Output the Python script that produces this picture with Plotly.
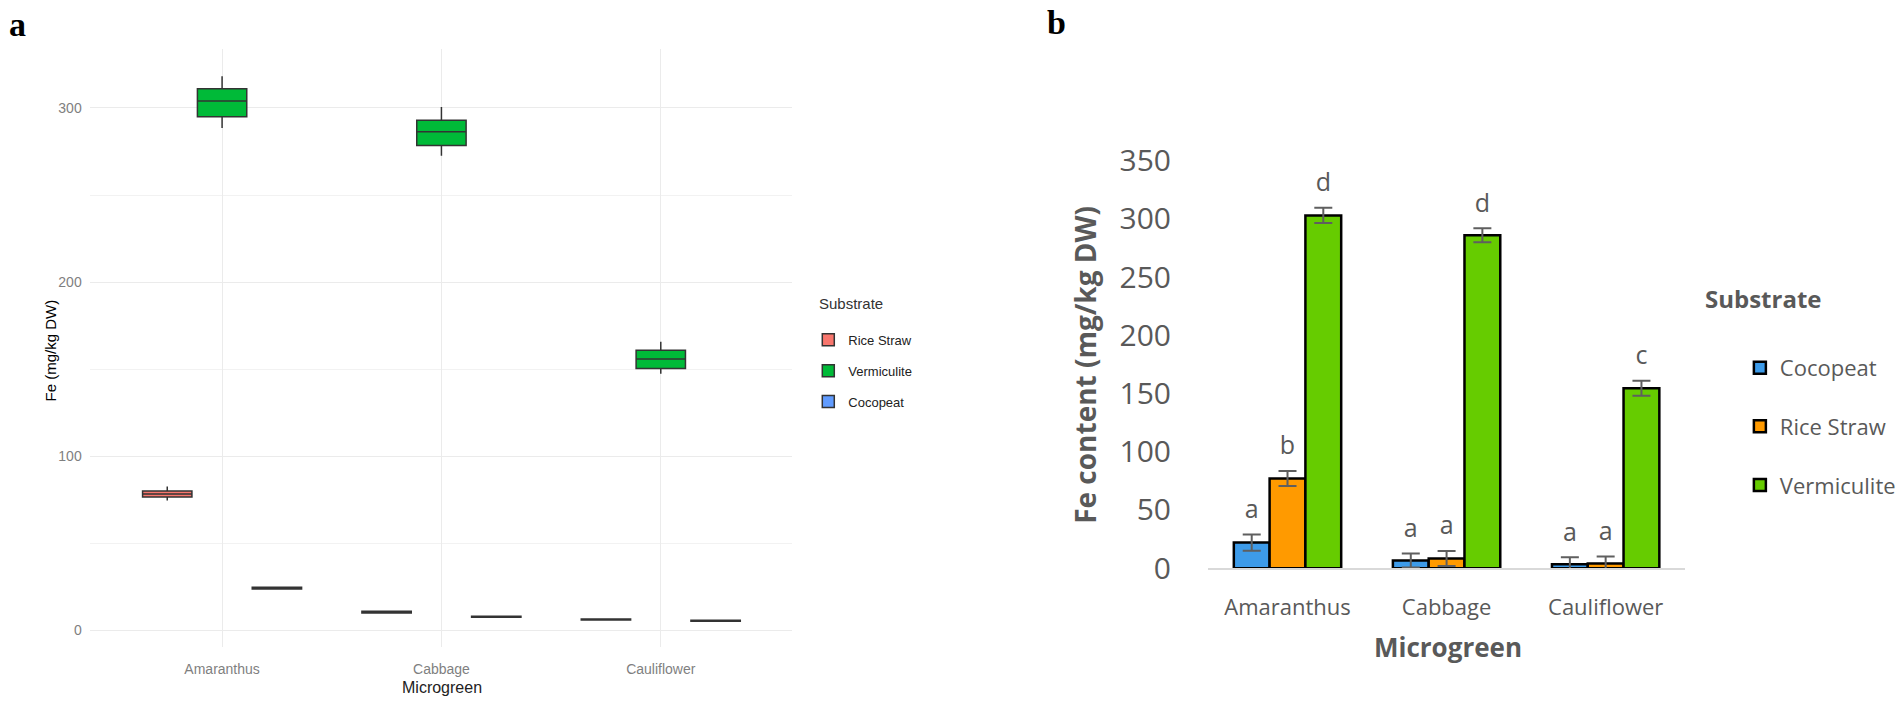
import plotly.graph_objects as go

W, H = 1901, 725

categories = ["Amaranthus", "Cabbage", "Cauliflower"]

# ---- Panel a: box plot statistics (mg/kg DW) ----
box_substrates = ["Rice Straw", "Vermiculite", "Cocopeat"]
box_q1 = {
    "Rice Straw": [76.5, 9.9, 5.8],
    "Vermiculite": [295.0, 278.5, 150.3],
    "Cocopeat": [23.7, 7.4, 5.1],
}
box_median = {
    "Rice Straw": [78.3, 10.4, 6.1],
    "Vermiculite": [304.0, 286.3, 155.8],
    "Cocopeat": [24.2, 7.7, 5.4],
}
box_q3 = {
    "Rice Straw": [80.0, 10.9, 6.4],
    "Vermiculite": [311.0, 292.9, 160.8],
    "Cocopeat": [24.7, 8.0, 5.7],
}
box_low = {
    "Rice Straw": [74.5, 9.6, 5.6],
    "Vermiculite": [288.5, 272.5, 147.3],
    "Cocopeat": [23.4, 7.2, 4.9],
}
box_high = {
    "Rice Straw": [82.5, 11.2, 6.6],
    "Vermiculite": [318.3, 300.6, 165.7],
    "Cocopeat": [25.0, 8.2, 5.9],
}
box_colors = {"Rice Straw": "#F8766D", "Vermiculite": "#00BA38", "Cocopeat": "#619CFF"}

# ---- Panel b: bar means, errors and letters ----
bar_substrates = ["Cocopeat", "Rice Straw", "Vermiculite"]
bar_mean = {
    "Cocopeat": [22.0, 6.6, 3.3],
    "Rice Straw": [77.0, 8.3, 4.0],
    "Vermiculite": [303.0, 286.0, 154.6],
}
bar_err = {
    "Cocopeat": [7.0, 6.0, 6.0],
    "Rice Straw": [6.5, 6.5, 6.0],
    "Vermiculite": [6.5, 6.0, 6.5],
}
bar_letters = {
    "Cocopeat": ["a", "a", "a"],
    "Rice Straw": ["b", "a", "a"],
    "Vermiculite": ["d", "d", "c"],
}
bar_colors = {"Cocopeat": "#3D9BE9", "Rice Straw": "#FF9A00", "Vermiculite": "#66CC00"}
letter_pad = 9  # gap (data units) between error-bar top and letter

yticks_a = [0, 100, 200, 300]
yticks_b = [0, 50, 100, 150, 200, 250, 300, 350]

NARROW = "Liberation Sans Narrow, Arial Narrow, Liberation Sans, sans-serif"
OPEN = "Open Sans, sans-serif"
GRAY_B = "#595959"


def px_x(p):
    return p / W


def px_y(p):
    return (H - p) / H


fig = go.Figure()

for s in box_substrates:
    fig.add_trace(go.Box(
        x=categories,
        q1=box_q1[s], median=box_median[s], q3=box_q3[s],
        lowerfence=box_low[s], upperfence=box_high[s],
        name=s, fillcolor=box_colors[s],
        line=dict(color="#333333", width=1.5), whiskerwidth=0,
        xaxis="x", yaxis="y", legend="legend",
        legendgroup="a" + s, offsetgroup="a" + s,
        hoverinfo="skip",
    ))

for s in bar_substrates:
    fig.add_trace(go.Bar(
        x=categories, y=bar_mean[s], name=s,
        marker=dict(color=bar_colors[s], line=dict(color="black", width=2.5)),
        error_y=dict(type="data", array=bar_err[s], color="#5f5f5f", thickness=2, width=9),
        xaxis="x2", yaxis="y2", legend="legend2",
        legendgroup="b" + s, offsetgroup="b" + s,
    ))
for s in bar_substrates:
    fig.add_trace(go.Scatter(
        x=categories, y=[m + e + letter_pad for m, e in zip(bar_mean[s], bar_err[s])],
        mode="text", text=bar_letters[s], textposition="top center",
        textfont=dict(family=OPEN, size=25, color=GRAY_B),
        xaxis="x2", yaxis="y2", showlegend=False,
        offsetgroup="b" + s, cliponaxis=False, hoverinfo="skip",
    ))

fig.update_layout(
    width=W, height=H,
    margin=dict(l=0, r=0, t=0, b=0),
    paper_bgcolor="white", plot_bgcolor="white",
    boxmode="group", boxgap=0.25, boxgroupgap=0.1,
    barmode="group", bargap=0.325, bargroupgap=0,
    scattermode="group",
    xaxis=dict(
        domain=[px_x(91), px_x(797)], anchor="y",
        type="category", range=[-0.6, 2.6],
        showgrid=True, gridcolor="#EBEBEB", gridwidth=1,
        showline=False, zeroline=False,
        ticks="outside", ticklen=9, tickcolor="rgba(0,0,0,0)",
        tickfont=dict(family=NARROW, size=14, color="#7f7f7f"),
    ),
    yaxis=dict(
        domain=[px_y(665), px_y(42)], anchor="x",
        range=[-9.9, 333.7], tickvals=yticks_a,
        showgrid=True, gridcolor="#EBEBEB", gridwidth=1,
        minor=dict(dtick=50, tick0=0, showgrid=True, gridcolor="#F2F2F2", gridwidth=1),
        showline=False, zeroline=False,
        ticks="outside", ticklen=5, tickcolor="rgba(0,0,0,0)",
        tickfont=dict(family=NARROW, size=14, color="#7f7f7f"),
    ),
    xaxis2=dict(
        domain=[px_x(1215), px_x(1695)], anchor="y2",
        type="category", range=[-0.5, 2.5],
        showgrid=False, zeroline=False,
        showline=True, linecolor="#D9D9D9", linewidth=2,
        ticks="outside", ticklen=18, tickcolor="rgba(0,0,0,0)",
        tickfont=dict(family=OPEN, size=22, color=GRAY_B),
    ),
    yaxis2=dict(
        domain=[px_y(582.5), px_y(145.9)], anchor="x2",
        range=[0, 360], tickvals=yticks_b,
        showgrid=False, zeroline=False, showline=False,
        ticks="outside", ticklen=30, tickcolor="rgba(0,0,0,0)",
        tickfont=dict(family=OPEN, size=30, color=GRAY_B),
    ),
    legend=dict(
        x=px_x(813), y=px_y(329), xanchor="left", yanchor="top",
        font=dict(family=NARROW, size=13, color="#222222"),
        tracegroupgap=11, bgcolor="rgba(0,0,0,0)",
    ),
    legend2=dict(
        x=px_x(1750), y=px_y(352), xanchor="left", yanchor="top",
        font=dict(family=OPEN, size=22, color=GRAY_B),
        tracegroupgap=27, bgcolor="rgba(0,0,0,0)",
    ),
    showlegend=True,
)

annotations = [
    dict(text="<b>a</b>", x=px_x(18), y=px_y(16), font=dict(family="Liberation Serif, serif", size=34, color="black")),
    dict(text="<b>b</b>", x=px_x(1063), y=px_y(14), font=dict(family="Liberation Serif, serif", size=34, color="black")),
    dict(text="Fe (mg/kg DW)", x=px_x(51), y=px_y(356), textangle=-90, font=dict(family=NARROW, size=15, color="black")),
    dict(text="Microgreen", x=px_x(445), y=px_y(707), font=dict(family=NARROW, size=16, color="#222222")),
    dict(text="Substrate", x=px_x(822), y=px_y(307), xanchor="left", font=dict(family=NARROW, size=15, color="#333333")),
    dict(text="<b>Fe content (mg/kg DW)</b>", x=px_x(1091), y=px_y(371), textangle=-90, font=dict(family=OPEN, size=28, color=GRAY_B)),
    dict(text="<b>Microgreen</b>", x=px_x(1456), y=px_y(665), font=dict(family=OPEN, size=26, color=GRAY_B)),
    dict(text="<b>Substrate</b>", x=px_x(1713), y=px_y(302), xanchor="left", font=dict(family=OPEN, size=24, color=GRAY_B)),
]
for a in annotations:
    a.setdefault("xanchor", "center")
    a.update(xref="paper", yref="paper", showarrow=False, yanchor="middle")
fig.update_layout(annotations=annotations)

fig.write_html(
    "out.html",
    config={"displayModeBar": False},
    post_script="document.body.style.margin='0';document.body.style.overflow='hidden';",
)
